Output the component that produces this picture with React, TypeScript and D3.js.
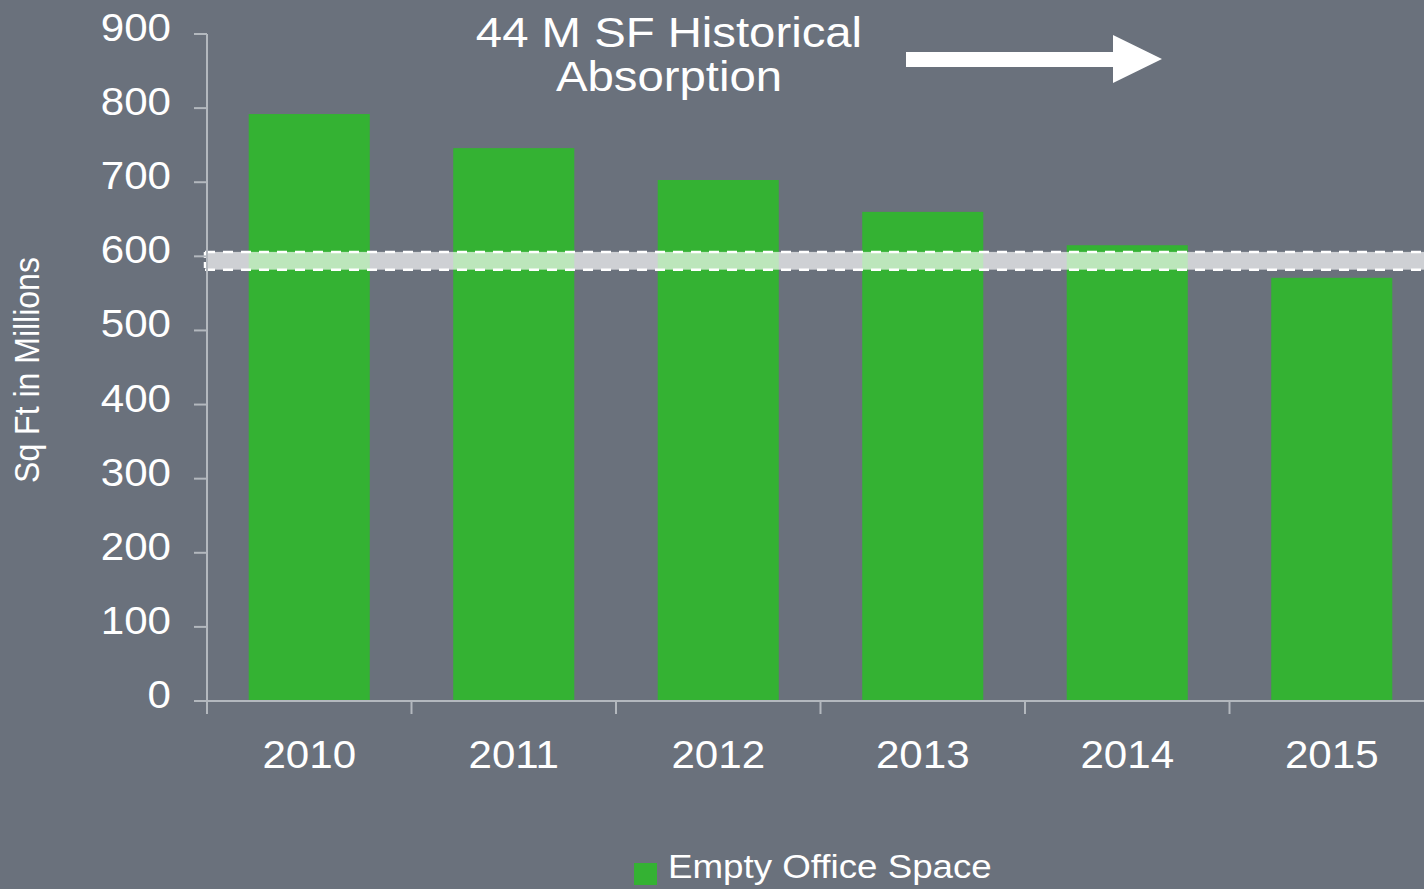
import React from "react";
import * as d3 from "d3";

const years = ["2010", "2011", "2012", "2013", "2014", "2015"];
const emptySpace = [792, 746, 703, 660, 615, 571];
const yTicks = [0, 100, 200, 300, 400, 500, 600, 700, 800, 900];
const bandRange = [582, 606];
const titleLines = ["44 M SF Historical", "Absorption"];
const seriesName = "Empty Office Space";
const yLabel = "Sq Ft in Millions";

const W = 1424;
const H = 889;
const BG = "#6a717c";
const GREEN = "#34b233";
const AXIS = "#b3b8be";
const FONT = "'Liberation Sans', Arial, Helvetica, sans-serif";
const SX = 1.08;

export default function App() {
  const x0 = 207;
  const bw = 204.5;
  const x = d3.scaleBand<string>().domain(years).range([x0, x0 + bw * years.length]).paddingInner(0).paddingOuter(0);
  const y = d3.scaleLinear().domain([0, 900]).range([701, 34]);
  const barW = x.bandwidth() * 0.592;

  const txt = (tx: number, ty: number, s: string, size: number, anchor: string, key?: any, extra?: string, sx: number = SX) => (
    <text
      key={key}
      transform={`translate(${tx},${ty}) scale(${sx},1)${extra || ""}`}
      fontSize={size}
      fontFamily={FONT}
      fill="#ffffff"
      textAnchor={anchor}
    >
      {s}
    </text>
  );

  return (
    <svg width={W} height={H} style={{ position: "fixed", left: 0, top: 0, display: "block" }}>
      <rect x={0} y={0} width={W} height={H} fill={BG} />
      {/* bars */}
      {years.map((yr, i) => {
        const cx = (x(yr) as number) + x.bandwidth() / 2;
        return (
          <rect
            key={yr}
            x={cx - barW / 2}
            y={y(emptySpace[i])}
            width={barW}
            height={y(0) - y(emptySpace[i])}
            fill={GREEN}
          />
        );
      })}
      {/* band */}
      <rect
        x={x0}
        y={y(bandRange[1])}
        width={W - x0 + 20}
        height={y(bandRange[0]) - y(bandRange[1])}
        fill="#ffffff"
        fillOpacity={0.67}
      />
      <line x1={x0 - 2} x2={W + 10} y1={y(bandRange[1])} y2={y(bandRange[1])} stroke="#fff" strokeWidth={2.5} strokeDasharray="10 8" />
      <line x1={x0 - 2} x2={W + 10} y1={y(bandRange[0])} y2={y(bandRange[0])} stroke="#fff" strokeWidth={2.5} strokeDasharray="10 8" />
      <line x1={x0 - 2} x2={x0 - 2} y1={y(bandRange[1])} y2={y(bandRange[0])} stroke="#fff" strokeWidth={2.5} strokeDasharray="6 4" />
      {/* y axis */}
      <line x1={x0} x2={x0} y1={y(900)} y2={y(0)} stroke={AXIS} strokeWidth={2} />
      {yTicks.map((t) => (
        <g key={t}>
          <line x1={x0 - 13} x2={x0} y1={y(t)} y2={y(t)} stroke={AXIS} strokeWidth={2} />
          {txt(171, y(t) + 7, String(t), 39, "end")}
        </g>
      ))}
      {/* x axis */}
      <line x1={x0 - 13} x2={W} y1={y(0)} y2={y(0)} stroke={AXIS} strokeWidth={2} />
      {years.map((yr) => (
        <line key={"t" + yr} x1={x(yr) as number} x2={x(yr) as number} y1={y(0)} y2={y(0) + 13} stroke={AXIS} strokeWidth={2} />
      ))}
      {years.map((yr) => txt((x(yr) as number) + x.bandwidth() / 2, 768, yr, 39, "middle", "l" + yr))}
      {/* y label */}
      {txt(39, 370, yLabel, 32, "middle", "ylab", " rotate(-90)")}
      {/* title */}
      {txt(669, 47, titleLines[0], 43, "middle", "t0", "", 1.1)}
      {txt(669, 91, titleLines[1], 43, "middle", "t1", "", 1.1)}
      {/* arrow */}
      <path d="M906,52 L1113,52 L1113,35 L1162,59 L1113,83 L1113,67 L906,67 Z" fill="#ffffff" />
      {/* legend */}
      <rect x={634} y={863} width={23} height={22} fill={GREEN} />
      {txt(668, 878, seriesName, 34, "start", "leg")}
    </svg>
  );
}
